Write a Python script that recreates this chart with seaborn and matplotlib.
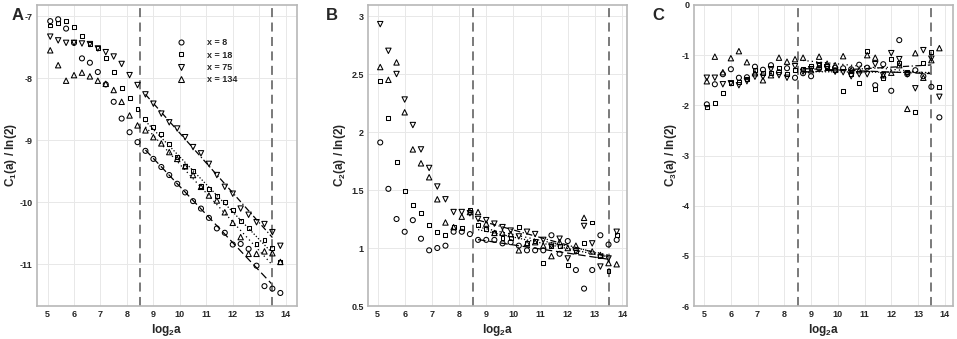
import numpy as np
import pandas as pd
import matplotlib
matplotlib.use("Agg")
import matplotlib.pyplot as plt
from matplotlib.lines import Line2D
import seaborn as sns

# scale axis (log2 a), shared by all panels
log2a = [5.1, 5.4, 5.7, 6.0, 6.3, 6.6, 6.9, 7.2, 7.5, 7.8,
         8.1, 8.4, 8.7, 9.0, 9.3, 9.6, 9.9, 10.2, 10.5, 10.8,
         11.1, 11.4, 11.7, 12.0, 12.3, 12.6, 12.9, 13.2, 13.5, 13.8]

series_labels = ["x = 8", "x = 18", "x = 75", "x = 134"]
series_markers = ["o", "s", "v", "^"]

# panel A: C1(a)/ln(2)
c1_x8 = [-7.08, -7.05, -7.20, -7.43, -7.68, -7.75, -7.90, -8.10, -8.38, -8.65,
         -8.87, -9.03, -9.17, -9.30, -9.43, -9.56, -9.70, -9.84, -9.98, -10.10,
         -10.25, -10.42, -10.49, -10.68, -10.67, -10.75, -11.02, -11.35, -11.39, -11.46]
c1_x18 = [-7.15, -7.11, -7.08, -7.17, -7.32, -7.45, -7.52, -7.68, -7.90, -8.15,
          -8.32, -8.49, -8.65, -8.78, -8.90, -9.06, -9.27, -9.42, -9.50, -9.73,
          -9.78, -9.90, -9.99, -10.12, -10.30, -10.42, -10.67, -10.60, -10.74, -10.96]
c1_x75 = [-7.33, -7.39, -7.43, -7.43, -7.44, -7.45, -7.52, -7.58, -7.65, -7.77,
          -7.95, -8.11, -8.26, -8.41, -8.57, -8.71, -8.81, -8.95, -9.11, -9.21,
          -9.38, -9.56, -9.75, -9.86, -10.10, -10.20, -10.32, -10.35, -10.48, -10.70]
c1_x134 = [-7.55, -7.79, -8.04, -7.95, -7.91, -7.97, -8.04, -8.09, -8.19, -8.38,
           -8.60, -8.76, -8.84, -8.95, -9.05, -9.19, -9.30, -9.42, -9.56, -9.75,
           -9.89, -9.97, -10.16, -10.33, -10.56, -10.83, -10.83, -10.79, -10.82, -10.96]

# panel B: C2(a)/ln(2)
c2_x8 = [1.91, 1.51, 1.25, 1.14, 1.24, 1.08, 0.98, 1.00, 1.02, 1.14,
         1.14, 1.12, 1.07, 1.07, 1.07, 1.04, 1.05, 1.02, 0.98, 0.98,
         0.98, 1.11, 0.95, 1.06, 0.81, 0.65, 0.81, 1.11, 1.03, 1.07]
c2_x18 = [2.44, 2.12, 1.74, 1.49, 1.37, 1.30, 1.20, 1.14, 1.11, 1.18,
          1.17, 1.33, 1.20, 1.16, 1.13, 1.09, 1.09, 1.18, 1.04, 1.06,
          0.87, 1.02, 1.02, 0.85, 0.97, 1.04, 1.22, 0.93, 0.80, 1.11]
c2_x75 = [2.93, 2.70, 2.50, 2.28, 2.06, 1.85, 1.69, 1.53, 1.42, 1.31,
          1.31, 1.30, 1.25, 1.24, 1.21, 1.18, 1.15, 1.10, 1.14, 1.12,
          1.07, 1.02, 1.08, 0.91, 0.97, 1.19, 1.04, 0.84, 0.91, 1.14]
c2_x134 = [2.56, 2.45, 2.60, 2.17, 1.85, 1.73, 1.61, 1.42, 1.22, 1.18,
           1.27, 1.31, 1.31, 1.21, 1.13, 1.13, 1.12, 0.98, 1.04, 1.05,
           1.02, 0.93, 1.05, 1.00, 1.02, 1.26, 0.97, 0.94, 0.87, 0.86]

# panel C: C3(a)/ln(2)
c3_x8 = [-1.98, -1.58, -1.38, -1.28, -1.45, -1.44, -1.23, -1.29, -1.20, -1.34,
         -1.26, -1.45, -1.36, -1.42, -1.26, -1.22, -1.25, -1.26, -1.28, -1.19,
         -1.25, -1.60, -1.18, -1.71, -0.70, -1.38, -1.30, -1.42, -1.63, -2.24]
c3_x18 = [-2.03, -1.96, -1.75, -1.55, -1.53, -1.48, -1.30, -1.36, -1.36, -1.26,
          -1.37, -1.30, -1.28, -1.22, -1.20, -1.26, -1.30, -1.71, -1.38, -1.56,
          -0.92, -1.68, -1.45, -1.07, -1.15, -1.33, -2.13, -1.16, -0.93, -1.63]
c3_x75 = [-1.45, -1.45, -1.58, -1.56, -1.60, -1.52, -1.43, -1.43, -1.28, -1.40,
          -1.45, -1.22, -1.33, -1.28, -1.20, -1.24, -1.33, -1.34, -1.42, -1.38,
          -1.38, -1.18, -1.40, -0.96, -1.08, -1.38, -1.66, -0.90, -1.07, -1.83]
c3_x134 = [-1.52, -1.03, -1.34, -1.06, -0.92, -1.14, -1.36, -1.50, -1.40, -1.05,
           -1.13, -1.08, -1.05, -1.30, -1.03, -1.17, -1.20, -1.02, -1.30, -1.30,
           -1.00, -1.05, -1.40, -1.35, -1.20, -2.07, -0.96, -1.45, -1.10, -0.86]

panel_data = {
    "A": [c1_x8, c1_x18, c1_x75, c1_x134],
    "B": [c2_x8, c2_x18, c2_x75, c2_x134],
    "C": [c3_x8, c3_x18, c3_x75, c3_x134],
}

rows = []
for panel, values in panel_data.items():
    for lab, vals in zip(series_labels, values):
        for xv, yv in zip(log2a, vals):
            rows.append({"panel": panel, "series": lab, "log2a": xv, "value": yv})
df = pd.DataFrame(rows)

sns.set_style("whitegrid", {"grid.color": "#e8e8e8", "axes.edgecolor": "#b8b8b8"})
plt.rcParams["font.family"] = ["Liberation Sans", "DejaVu Sans"]
plt.rcParams["font.weight"] = "bold"
plt.rcParams["axes.unicode_minus"] = False
plt.rcParams["mathtext.fontset"] = "custom"
plt.rcParams["mathtext.rm"] = "Liberation Sans:bold"
plt.rcParams["mathtext.it"] = "Liberation Sans:bold"
plt.rcParams["mathtext.bf"] = "Liberation Sans:bold"

fig = plt.figure(figsize=(9.57, 3.39), dpi=100)
W, H = 957, 339

panels = [
    # name, left px, width px, ylabel, ylim, yticks, ytick labels, xlim, letter x px, ylabel right edge px
    ("A", 37, 260, r"C$_1$(a) / ln(2)", (-11.67, -6.82), [-11, -10, -9, -8, -7],
     ["-11", "-10", "-9", "-8", "-7"], (4.6, 14.43), 18, 19),
    ("B", 368, 259, r"C$_2$(a) / ln(2)", (0.5, 3.095), [0.5, 1, 1.5, 2, 2.5, 3],
     ["0.5", "1", "1.5", "2", "2.5", "3"], (4.65, 14.18), 332, 348),
    ("C", 694, 259, r"C$_3$(a) / ln(2)", (-6, 0), [-6, -5, -4, -3, -2, -1, 0],
     ["-6", "-5", "-4", "-3", "-2", "-1", "0"], (4.62, 14.31), 658, 679),
]
fit_styles = [(0, (6, 3)), (0, (1, 1.5)), (0, (5, 2, 1, 2)), (0, (1, 2.5))]
marker_sizes = [13, 8, 15, 15]

for name, left, width, ylabel, ylim, yticks, yticklabels, xlim, letter_x, ylab_x in panels:
    ax = fig.add_axes([left / W, 33 / H, width / W, 301 / H])
    sub = df[df["panel"] == name]
    for lab, m, ls, ms in zip(series_labels, series_markers, fit_styles, marker_sizes):
        d = sub[sub["series"] == lab]
        sns.scatterplot(data=d, x="log2a", y="value", marker=m, s=ms,
                        color="black", facecolor="none", edgecolor="black",
                        linewidth=0.75, ax=ax, legend=False, zorder=3)
        # linear fit over the scaling range 8.5 - 13.5
        fr = d[(d["log2a"] > 8.5) & (d["log2a"] < 13.6)]
        coef = np.polyfit(fr["log2a"], fr["value"], 1)
        xs = np.array([fr["log2a"].min(), fr["log2a"].max()])
        ax.plot(xs, np.polyval(coef, xs), color="black", lw=0.9, ls=ls, zorder=2)

    for xv in (8.5, 13.5):
        ax.axvline(xv, color="#707070", lw=1.3, ls=(0, (5, 3)), zorder=2)

    ax.set_xlim(*xlim)
    ax.set_ylim(*ylim)
    ax.set_xticks([5, 6, 7, 8, 9, 10, 11, 12, 13, 14])
    ax.set_xticklabels([str(t) for t in range(5, 15)])
    ax.set_yticks(yticks)
    ax.set_yticklabels(yticklabels)
    ax.tick_params(axis="both", labelsize=6.5, direction="in", length=2,
                   color="#b8b8b8", pad=3)
    for t in ax.get_xticklabels() + ax.get_yticklabels():
        t.set_fontweight("bold")
    for sp in ax.spines.values():
        sp.set_linewidth(1.2)
    ax.grid(True, lw=0.7)
    ax.set_xlabel(r"log$_2$a", fontsize=8.5, fontweight="bold", labelpad=2)
    ax.set_ylabel(ylabel, fontsize=8.5, fontweight="bold")
    ax.yaxis.set_label_coords((ylab_x - left) / width, 0.5)
    fig.text(letter_x / W, 1 - 15 / H, name, fontsize=12, fontweight="bold",
             ha="center", va="center")

    if name == "A":
        handles = [Line2D([], [], marker=m, ls="none", mfc="none", mec="black",
                          mew=0.75, ms=s ** 0.5) for m, s in zip(series_markers, marker_sizes)]
        ax.legend(handles, series_labels, loc="upper left",
                  bbox_to_anchor=(0.52, 0.905), frameon=False, borderpad=0,
                  handlelength=1.0, handletextpad=2.3, labelspacing=0.38,
                  prop={"size": 6.5, "weight": "bold"})

fig.savefig("out.png", dpi=100)
